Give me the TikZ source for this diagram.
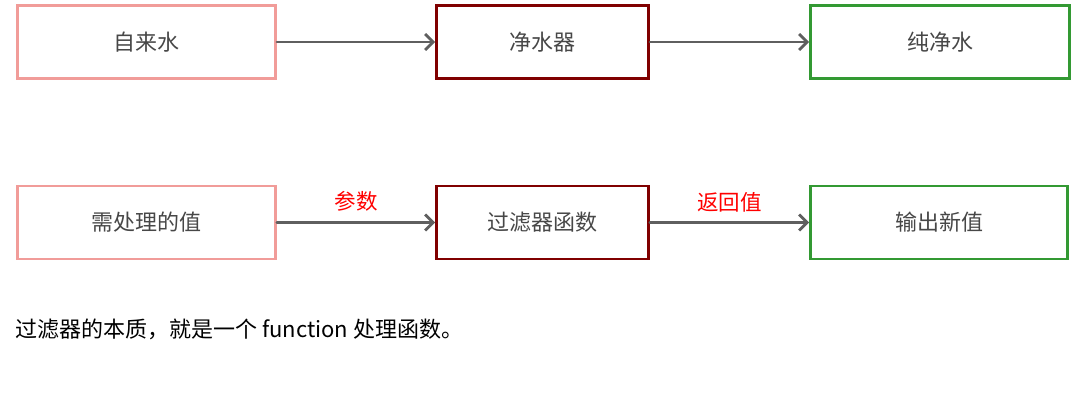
\documentclass[tikz,border=0pt]{standalone}
\usepackage{fontspec}
\setmainfont{Noto Sans CJK SC}
\usepackage{xcolor}
\usetikzlibrary{arrows.meta}
\definecolor{srcpink}{RGB}{241,156,153}
\definecolor{filterred}{RGB}{128,0,0}
\definecolor{outgreen}{RGB}{51,153,51}
\definecolor{flowgray}{RGB}{95,95,95}

\begin{document}
\begin{tikzpicture}[x=1pt,y=-1pt,>={Straight Barb[length=8pt,width=16pt]},font=\fontsize{22}{26}\selectfont,line cap=round,
  box/.style={draw,line width=2.8pt,minimum height=73pt,inner sep=0pt,text=black!72},
  flow/.style={->,flowgray,line width=2.8pt},
  tag/.style={text=red,font=\fontsize{21.5}{25}\selectfont}]
\useasboundingbox (0,0) rectangle (1077,411);
\node[box,srcpink,text=black!72,minimum width=258pt] (tap) at (146.5,42) {自来水};
\node[box,filterred,text=black!72,minimum width=212pt] (purifier) at (542.5,42) {净水器};
\node[box,outgreen,text=black!72,minimum width=259pt] (pure) at (940,42) {纯净水};
\draw[flow] (tap) -- (purifier);
\draw[flow] (purifier) -- (pure);
\node[box,srcpink,text=black!72,minimum width=258pt] (raw) at (146.5,222.5) {需处理的值};
\node[box,filterred,text=black!72,minimum width=212pt] (filterfn) at (542.5,222.5) {过滤器函数};
\node[box,outgreen,text=black!72,minimum width=257pt] (result) at (939,222.5) {输出新值};
\draw[flow] (raw) -- node[tag,above=6pt] (argtag) {参数} (filterfn);
\draw[flow] (filterfn) -- node[tag,above=6pt] (rettag) {返回值} (result);
\node[anchor=west,inner sep=0pt,text=black] (note) at (15,329) {过滤器的本质，就是一个 function 处理函数。};
\end{tikzpicture}
\end{document}
